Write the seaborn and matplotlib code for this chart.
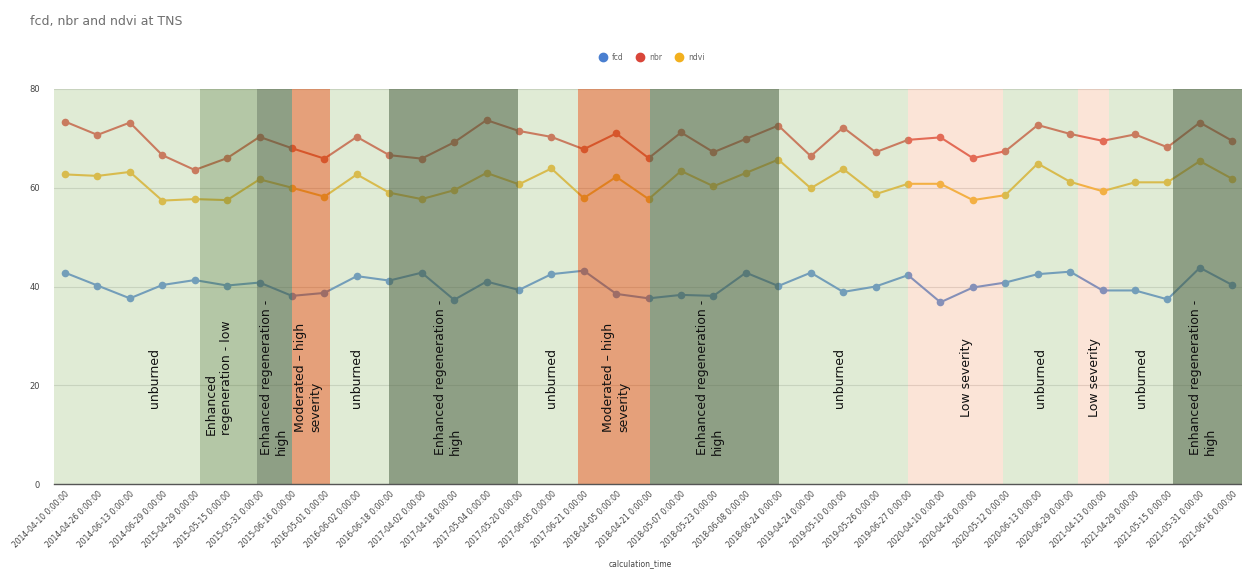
import numpy as np
import pandas as pd
import matplotlib
matplotlib.use("Agg")
import matplotlib.pyplot as plt
from matplotlib.lines import Line2D
import seaborn as sns

dates = ["2014-04-10", "2014-04-26", "2014-06-13", "2014-06-29", "2015-04-29",
         "2015-05-15", "2015-05-31", "2015-06-16", "2016-05-01", "2016-06-02",
         "2016-06-18", "2017-04-02", "2017-04-18", "2017-05-04", "2017-05-20",
         "2017-06-05", "2017-06-21", "2018-04-05", "2018-04-21", "2018-05-07",
         "2018-05-23", "2018-06-08", "2018-06-24", "2019-04-24", "2019-05-10",
         "2019-05-26", "2019-06-27", "2020-04-10", "2020-04-26", "2020-05-12",
         "2020-06-13", "2020-06-29", "2021-04-13", "2021-04-29", "2021-05-15",
         "2021-05-31", "2021-06-16"]
tick_labels = [d + " 0:00:00" for d in dates]

fcd = [42.8, 40.2, 37.6, 40.3, 41.3, 40.2, 40.8, 38.1, 38.7, 42.1, 41.2, 42.8,
       37.3, 41.0, 39.3, 42.5, 43.2, 38.5, 37.6, 38.3, 38.1, 42.8, 40.1, 42.8,
       38.9, 40.0, 42.3, 36.8, 39.8, 40.8, 42.5, 43.0, 39.2, 39.2, 37.4, 43.8, 40.3]
nbr = [73.4, 70.7, 73.2, 66.6, 63.6, 66.0, 70.3, 68.0, 65.9, 70.3, 66.6, 65.9,
       69.2, 73.7, 71.5, 70.3, 67.8, 71.0, 66.0, 71.2, 67.2, 69.9, 72.6, 66.4,
       72.2, 67.2, 69.7, 70.2, 66.0, 67.4, 72.7, 70.9, 69.5, 70.8, 68.2, 73.2, 69.5]
ndvi = [62.7, 62.4, 63.2, 57.4, 57.7, 57.5, 61.7, 60.0, 58.2, 62.7, 59.0, 57.7,
        59.5, 63.0, 60.7, 63.9, 57.9, 62.2, 57.7, 63.4, 60.3, 63.0, 65.7, 59.9,
        63.8, 58.7, 60.8, 60.8, 57.5, 58.5, 64.9, 61.2, 59.3, 61.1, 61.1, 65.4, 61.8]

# burn class periods shaded over the chart (start, end in x index units)
band_classes = ["unburned", "regen_low", "regen_high", "moderate", "unburned",
                "regen_high", "unburned", "moderate", "regen_high", "unburned",
                "low", "unburned", "low", "unburned", "regen_high"]
band_start = [-0.34, 4.17, 5.92, 6.99, 8.16, 10.0, 13.96, 15.83, 18.04, 22.02,
              26.01, 28.93, 31.23, 32.21, 34.17]
band_end = [4.17, 5.92, 6.99, 8.16, 10.0, 13.96, 15.83, 18.04, 22.02, 26.01,
            28.93, 31.23, 32.21, 34.17, 36.4]
band_text = ["unburned", "Enhanced\nregeneration - low", "Enhanced regeneration -\nhigh",
             "Moderated – high\nseverity", "unburned", "Enhanced regeneration -\nhigh",
             "unburned", "Moderated – high\nseverity", "Enhanced regeneration -\nhigh",
             "unburned", "Low severity", "unburned", "Low severity", "unburned",
             "Enhanced regeneration -\nhigh"]
band_text_x = [2.76, 4.75, 6.44, 7.5, 9.0, 11.8, 15.0, 17.0, 19.9, 23.9, 27.8,
               30.1, 31.75, 33.2, 35.1]

band_style = {
    "unburned": ("#b2cd98", 0.4),
    "regen_low": ("#77995d", 0.55),
    "regen_high": ("#5f7752", 0.7),
    "moderate": ("#d56121", 0.6),
    "low": ("#f6b28d", 0.35),
}

colors = {"fcd": "#4a7fd0", "nbr": "#d9463a", "ndvi": "#f2b01e"}

df = pd.DataFrame({"x": np.arange(len(dates)), "fcd": fcd, "nbr": nbr, "ndvi": ndvi})
long = df.melt(id_vars="x", var_name="series", value_name="value")

sns.set_style("white")
fig = plt.figure(figsize=(12.42, 5.72), dpi=100)
ax = fig.add_axes([54 / 1242, 1 - 484 / 572, 1 - 54 / 1242, 395 / 572])

sns.lineplot(data=long, x="x", y="value", hue="series", palette=colors,
             marker="o", markersize=5.5, markeredgewidth=0, linewidth=1.5,
             legend=False, ax=ax, zorder=2)

for cls, s, e in zip(band_classes, band_start, band_end):
    c, a = band_style[cls]
    ax.axvspan(s, e, color=c, alpha=a, lw=0, zorder=3)

for t, x in zip(band_text, band_text_x):
    ax.text(x, 21.5, t, rotation=90, ha="center", va="center", multialignment="left",
            fontsize=9, color="#111111", zorder=4)

ax.set_xlim(-0.34, 36.3)
ax.set_ylim(0, 80)
ax.set_yticks([0, 20, 40, 60, 80])
ax.set_yticklabels(["0", "20", "40", "60", "80"])
ax.yaxis.grid(True, color="#d8d8d8", lw=0.8, zorder=1)
ax.set_axisbelow(True)
ax.set_xticks(np.arange(len(dates)))
ax.set_xticklabels(tick_labels, rotation=45, ha="right", rotation_mode="anchor",
                   fontsize=5.5, color="#444444")
ax.tick_params(axis="y", labelsize=6, colors="#444444", length=0, pad=10)
ax.tick_params(axis="x", length=0, pad=4)
for sp in ["top", "right", "left"]:
    ax.spines[sp].set_visible(False)
ax.spines["bottom"].set_color("#555555")
ax.spines["bottom"].set_linewidth(1)
ax.spines["bottom"].set_zorder(5)
ax.set_xlabel("")
ax.set_ylabel("")

fig.text(30 / 1242, 1 - 22 / 572, "fcd, nbr and ndvi at TNS", fontsize=9,
         color="#6f6f6f", va="center", ha="left")
fig.text(640 / 1242, 1 - 564 / 572, "calculation_time", fontsize=5.5,
         color="#444444", ha="center", va="center")

handles = [Line2D([], [], marker="o", ls="", color=colors[k], markersize=6) for k in ["fcd", "nbr", "ndvi"]]
fig.legend(handles, ["fcd", "nbr", "ndvi"], loc="center", bbox_to_anchor=(650 / 1242, 1 - 57 / 572),
           ncol=3, frameon=False, fontsize=5.5, handletextpad=0.2, columnspacing=1.2,
           labelcolor="#666666")

fig.savefig("out.png", dpi=100)
